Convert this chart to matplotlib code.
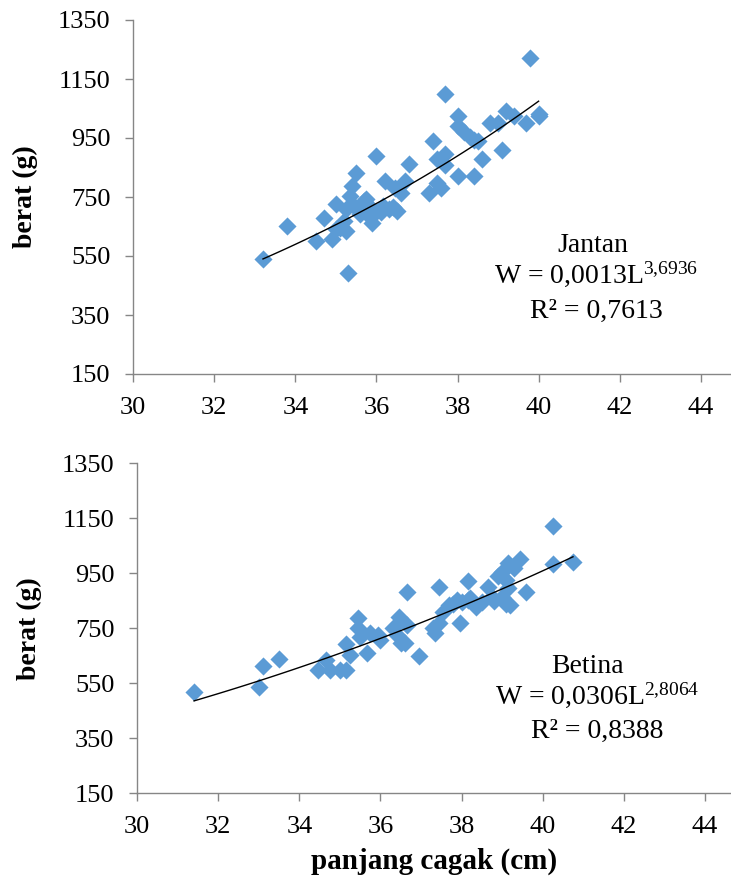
import numpy as np
import matplotlib
matplotlib.use("Agg")
import matplotlib.pyplot as plt

plt.rcParams['font.family'] = ['Liberation Serif', 'DejaVu Serif']
plt.rcParams['mathtext.fontset'] = 'custom'
plt.rcParams['mathtext.rm'] = 'Liberation Serif'
plt.rcParams['mathtext.it'] = 'Liberation Serif:italic'

# ------------------------------------------------------------------
# data
# ------------------------------------------------------------------
jantan_len = [33.2, 33.8, 34.5, 34.7, 34.9, 35.0, 35.1, 35.25, 35.3, 35.4,
              35.5, 35.35, 35.25, 35.45, 35.6, 35.75, 35.9, 35.9, 36.0, 36.0,
              36.2, 36.15, 36.3, 36.5, 36.45, 36.6, 36.7, 36.8, 37.3, 37.4,
              37.5, 37.6, 37.5, 37.7, 37.7, 37.7, 38.0, 38.0, 38.0, 38.15,
              38.3, 38.4, 38.5, 38.4, 38.6, 38.8, 39.0, 39.1, 39.2, 39.4,
              39.7, 39.8, 40.0, 40.0, 35.2, 35.7, 36.1, 36.4, 35.8, 35.0]
jantan_wt = [541, 651, 602, 680, 606, 725, 646, 634, 493, 787,
             830, 753, 708, 719, 691, 742, 708, 663, 698, 889,
             804, 719, 708, 702, 781, 764, 804, 862, 762, 939,
             796, 779, 880, 897, 857, 1100, 1023, 989, 820, 972,
             955, 944, 939, 820, 880, 1001, 1001, 910, 1043, 1023,
             1001, 1220, 1023, 1032, 670, 735, 700, 715, 690, 640]

betina_len = [31.4, 33.0, 33.1, 33.5, 34.45, 34.65, 34.75, 35.0, 35.15, 35.15,
              35.25, 35.45, 35.45, 35.5, 35.67, 35.75, 35.95, 36.0, 36.3, 36.4,
              36.45, 36.5, 36.6, 36.65, 36.65, 36.95, 37.3, 37.35, 37.45, 37.45,
              37.55, 37.7, 37.8, 37.95, 37.9, 38.15, 38.15, 38.35, 38.65, 38.75,
              38.9, 39.0, 39.1, 39.15, 39.3, 39.45, 39.15, 39.0, 39.6, 40.25,
              40.25, 40.75, 38.5, 38.8, 39.1, 39.2, 38.0, 38.2]
betina_wt = [520, 538, 613, 637, 598, 635, 598, 598, 598, 693,
             653, 786, 750, 719, 661, 732, 726, 707, 750, 726,
             792, 695, 695, 883, 762, 649, 750, 732, 768, 899,
             810, 835, 840, 770, 853, 922, 853, 829, 899, 865,
             940, 956, 926, 986, 968, 1001, 895, 865, 883, 1122,
             984, 991, 845, 850, 840, 835, 845, 860]

# power fits W = a * L^b
jantan_fit = (0.0013, 3.6936)
betina_fit = (0.0306, 2.8064)

x_ticks = [30, 32, 34, 36, 38, 40, 42, 44]
y_ticks = [150, 350, 550, 750, 950, 1150, 1350]

BLUE = "#5B9BD5"
GREY = "#868686"


def draw_panel(ax, xs, ys, fit, xmax):
    ax.scatter(xs, ys, marker="D", s=85, color=BLUE, linewidths=0, zorder=3)
    a, b = fit
    L = np.linspace(min(xs), max(xs), 100)
    ax.plot(L, a * L ** b, color="black", linewidth=1.0, zorder=4)
    ax.set_xlim(30, xmax)
    ax.set_ylim(150, 1350)
    ax.set_xticks(x_ticks)
    ax.set_yticks(y_ticks)
    for side in ("top", "right"):
        ax.spines[side].set_visible(False)
    for side in ("left", "bottom"):
        ax.spines[side].set_color(GREY)
        ax.spines[side].set_linewidth(1.0)
    ax.tick_params(axis="both", direction="out", length=5.5, width=1.0,
                   color=GREY, labelsize=19, labelcolor="black")
    ax.tick_params(axis="y", pad=11)
    ax.tick_params(axis="x", pad=11)
    ax.set_ylabel("berat (g)", fontsize=20, fontweight="bold", labelpad=14)


fig = plt.figure(figsize=(7.31, 8.83), dpi=100)
W, H = 731, 883
px = 40.53  # pixels per cm on the x axis

ax1 = fig.add_axes([133.3 / W, (H - 374) / H, (W - 133.3) / W, 354 / H])
draw_panel(ax1, jantan_len, jantan_wt, jantan_fit, 30 + (W - 133.3) / px)

ax2 = fig.add_axes([137.3 / W, (H - 793.3) / H, (W - 137.3) / W, 330 / H])
draw_panel(ax2, betina_len, betina_wt, betina_fit, 30 + (W - 137.3) / px)
ax2.set_xlabel("panjang cagak (cm)", fontsize=21, fontweight="bold", labelpad=7)

# equations
fs = 20
fig.text(593 / W, (H - 252) / H, "Jantan", ha="center", va="baseline", fontsize=fs)
fig.text(596 / W, (H - 283) / H, r"W = 0,0013L$^{\mathrm{3{,}6936}}$",
         ha="center", va="baseline", fontsize=fs)
fig.text(596 / W, (H - 318) / H, "R² = 0,7613", ha="center", va="baseline", fontsize=fs)

fig.text(588 / W, (H - 673) / H, "Betina", ha="center", va="baseline", fontsize=fs)
fig.text(597 / W, (H - 704) / H, r"W = 0,0306L$^{\mathrm{2{,}8064}}$",
         ha="center", va="baseline", fontsize=fs)
fig.text(597 / W, (H - 738) / H, "R² = 0,8388", ha="center", va="baseline", fontsize=fs)

fig.savefig("out.png", dpi=100)
